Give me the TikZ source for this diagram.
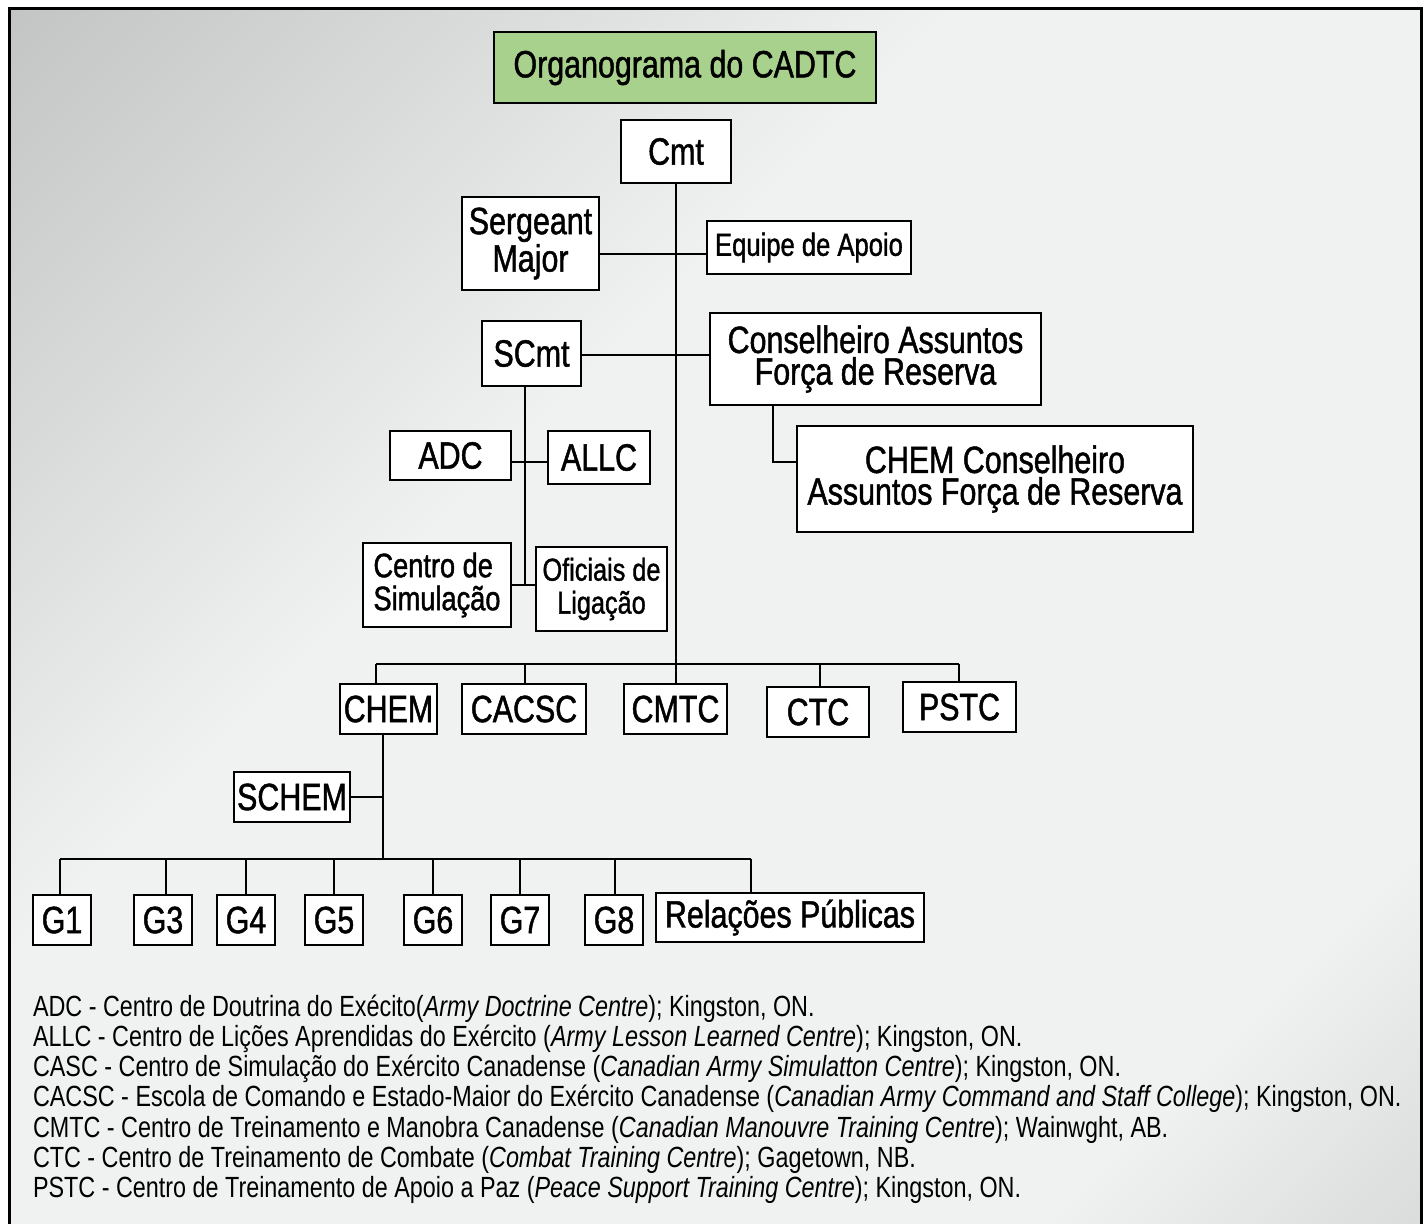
\documentclass[tikz,border=0pt]{standalone}
\usepackage{fontspec}
\setmainfont{Liberation Sans}[FakeStretch=0.8]
\newfontfamily\boxfont{Liberation Sans}[FakeStretch=0.8, FakeBold=1.2]
\definecolor{bgdark}{HTML}{A8ACAA}
\definecolor{bgend}{HTML}{BABDBC}
\definecolor{bglight}{HTML}{F0F1F1}
\definecolor{titlegreen}{HTML}{A9D18E}
\pgfdeclareverticalshading{bgshade}{100bp}{color(0bp)=(bgend); color(25bp)=(bglight); color(60bp)=(bglight); color(100bp)=(bgdark)}
\tikzset{
	box/.style 2 args={draw, fill=white, inner sep=0pt, align=center,
		minimum width=#1*0.5pt, minimum height=#2*0.5pt,
		font=\boxfont\fontsize{19}{15.8}\selectfont},
	legend/.style={anchor=base west, inner sep=0pt, font=\fontsize{14.6}{15}\selectfont}
}
\begin{document}
\begin{tikzpicture}[x=0.5pt, y=-0.5pt, line width=1pt]
				%defs
				\useasboundingbox (0,0) rectangle (1424,1223);
				\coordinate (smj) at (676,254);
				\coordinate (scj) at (676,355);
				\coordinate (ccj) at (773,462);
				\coordinate (aaj) at (525,462);
				\coordinate (coj) at (525,585);
				\coordinate (busl) at (376,664);
				\coordinate (busr) at (959,664);
				\coordinate (chj) at (383,859);
				\coordinate (gl) at (60,859);
				\coordinate (gr) at (751,859);
				%background
				\fill[white] (0,0) rectangle (1424,1223);
				\shade[shading=bgshade, shading angle=45] (9,8) rectangle (1421,1240);
				\draw[line width=1.5pt] (9,1240) -- (9,8) -- (1421,8) -- (1421,1240);
				%lines (drawn first, boxes cover them)
				\draw (676,183) -- (676,684);
				\draw (599,254) -- (smj) -- (707,254);
				\draw (581,355) -- (scj) -- (710,355);
				\draw (773,405) |- (797,462);
				\draw (525,386) -- (coj);
				\draw (511,462) -- (aaj) -- (548,462);
				\draw (511,585) -- (coj) -- (536,585);
				\draw (busl) -- (busr);
				\draw (383,734) -- (chj);
				\draw (350,797) -- (383,797);
				\draw (gl) -- (gr);
				%boxes
				\node[box={382}{71}, fill=titlegreen] (title) at (685,67.5) {Organograma do CADTC};
				\node[box={110}{63}] (cmt) at (676,151.5) {Cmt};
				\node[box={137}{93}, font=\boxfont\fontsize{19}{14.5}\selectfont] (sm) at (530.5,243.5) {Sergeant\\Major};
				\node[box={204}{53}, font=\boxfont\fontsize{16}{15}\selectfont] (equipe) at (809,247.5) {Equipe de Apoio};
				\node[box={99}{65}] (scmt) at (531.5,353.5) {SCmt};
				\node[box={331}{92}] (cons) at (875.5,359) {Conselheiro Assuntos\\Força de Reserva};
				\node[box={396}{106}] (chemcons) at (995,479) {CHEM Conselheiro\\Assuntos Força de Reserva};
				\node[box={121}{49}] (adc) at (450.5,455.5) {ADC};
				\node[box={102}{53}] (allc) at (599,457.5) {ALLC};
				\node[box={148}{84}, align=left, font=\boxfont\fontsize{17}{16.5}\selectfont] (centro) at (437,585) {Centro de\\Simulação};
				\node[box={131}{84}, font=\boxfont\fontsize{15.8}{16.5}\selectfont] (oficiais) at (601.5,589) {Oficiais de\\Ligação};
				\node[box={97}{50}] (chem) at (388.5,709) {CHEM};
				\node[box={124}{50}] (cacsc) at (524,709) {CACSC};
				\node[box={103}{50}] (cmtc) at (675.5,709) {CMTC};
				\node[box={102}{50}] (ctc) at (818,712) {CTC};
				\node[box={113}{50}] (pstc) at (959.5,707) {PSTC};
				\node[box={116}{50}] (schem) at (292,797) {SCHEM};
				\node[box={268}{49}] (rp) at (790,917.5) {Relações Públicas};
				%drops
				\draw (busl) -- (chem.north -| busl);
				\draw (525,664) -- (cacsc.north -| 525,0);
				\draw (820,664) -- (ctc.north -| 820,0);
				\draw (busr) -- (pstc.north -| busr);
				\draw (gr) -- (rp.north -| gr);
				\foreach \g/\c/\d in {1/62/60, 3/163/166, 4/246/246, 5/334/334, 6/433/433, 7/520/520, 8/614/615}{
					\node[box={58}{50}] (g\g) at (\c,920) {G\g};
					\draw (\d,859) -- (g\g.north -| \d,0);
				}
				%Labels
				\node[legend] (l1) at (32,1016) {ADC - Centro de Doutrina do Exécito(\textit{Army Doctrine Centre}); Kingston, ON.};
				\node[legend] (l2) at (32,1046.3) {ALLC - Centro de Lições Aprendidas do Exército (\textit{Army Lesson Learned Centre}); Kingston, ON.};
				\node[legend] (l3) at (32,1076.6) {CASC - Centro de Simulação do Exército Canadense (\textit{Canadian Army Simulatton Centre}); Kingston, ON.};
				\node[legend] (l4) at (32,1106.9) {CACSC - Escola de Comando e Estado-Maior do Exército Canadense (\textit{Canadian Army Command and Staff College}); Kingston, ON.};
				\node[legend] (l5) at (32,1137.2) {CMTC - Centro de Treinamento e Manobra Canadense (\textit{Canadian Manouvre Training Centre}); Wainwght, AB.};
				\node[legend] (l6) at (32,1167.5) {CTC - Centro de Treinamento de Combate (\textit{Combat Training Centre}); Gagetown, NB.};
				\node[legend] (l7) at (32,1197.8) {PSTC - Centro de Treinamento de Apoio a Paz (\textit{Peace Support Training Centre}); Kingston, ON.};
			\end{tikzpicture}
\end{document}
